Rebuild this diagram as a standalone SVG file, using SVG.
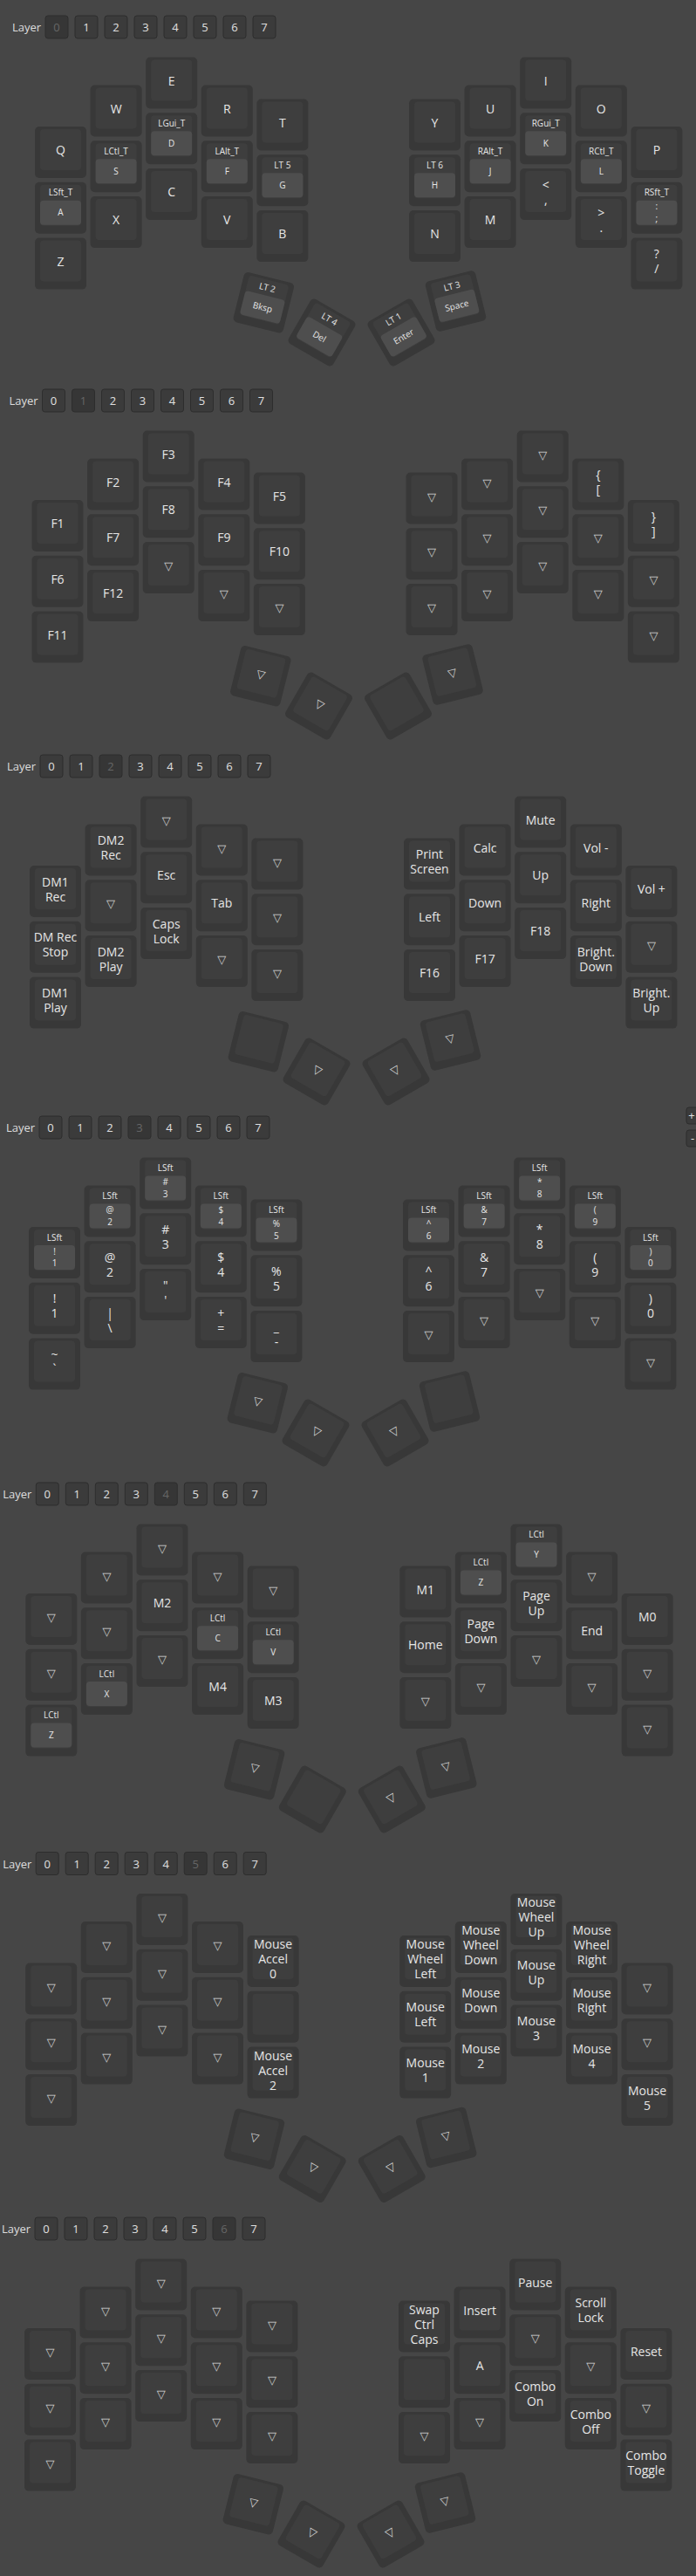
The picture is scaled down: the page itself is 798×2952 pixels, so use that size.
<svg xmlns="http://www.w3.org/2000/svg" xmlns:xlink="http://www.w3.org/1999/xlink" width="798" height="2952" viewBox="0 0 798 2952">
<style>
.ko{fill:#383838}
.kf{fill:#3e3e3e}
.kt{fill:#4e4e4e}
text{font-family:"Open Sans","Noto Sans",sans-serif;font-size:14px;fill:#e6e6e6;text-anchor:middle}
.s{font-size:10px}
.tr{font-family:"DejaVu Sans",sans-serif;font-size:13px;fill:#d4d4d4}
.lbl{font-size:13px;text-anchor:start;fill:#dedede}
.b{fill:#3b3b3b;stroke:#2d2d2d;stroke-width:1}
.ba{fill:#363636;stroke:#2d2d2d;stroke-width:1}
.bn{font-size:13px;fill:#e0e0e0}
.bna{font-size:13px;fill:#666}
</style>
<defs>
<g id="k"><rect class="ko" width="59" height="59" rx="5"/><rect class="kf" x="6" y="3" width="47" height="47" rx="4"/></g>
<g id="kh"><use href="#k"/><rect class="kt" x="6" y="21" width="47" height="28" rx="4"/></g>
</defs>
<rect width="798" height="2952" fill="#464646"/>
<g id="connectors"/>

<!-- LAYER 0 -->
<g id="layer0">
<g id="L0-bar"><text class="lbl" x="14" y="36">Layer</text>
<rect class="ba" x="52" y="18" width="26" height="26" rx="3"/><text class="bna" x="65" y="36">0</text>
<rect class="b" x="86" y="18" width="26" height="26" rx="3"/><text class="bn" x="99" y="36">1</text>
<rect class="b" x="120" y="18" width="26" height="26" rx="3"/><text class="bn" x="133" y="36">2</text>
<rect class="b" x="154" y="18" width="26" height="26" rx="3"/><text class="bn" x="167" y="36">3</text>
<rect class="b" x="188" y="18" width="26" height="26" rx="3"/><text class="bn" x="201" y="36">4</text>
<rect class="b" x="222" y="18" width="26" height="26" rx="3"/><text class="bn" x="235" y="36">5</text>
<rect class="b" x="256" y="18" width="26" height="26" rx="3"/><text class="bn" x="269" y="36">6</text>
<rect class="b" x="290" y="18" width="26" height="26" rx="3"/><text class="bn" x="303" y="36">7</text></g>
<g id="L0-Q" transform="translate(40 145)"><use href="#k"/><text x="29.5" y="32">Q</text></g>
<g id="L0-A" transform="translate(40 208.8)"><use href="#kh"/><text class="s" x="29.5" y="15.5">LSft_T</text><text class="s" x="29.5" y="38.5">A</text></g>
<g id="L0-Z" transform="translate(40 272.6)"><use href="#k"/><text x="29.5" y="32">Z</text></g>
<g id="L0-W" transform="translate(103.6 97.5)"><use href="#k"/><text x="29.5" y="32">W</text></g>
<g id="L0-S" transform="translate(103.6 161.3)"><use href="#kh"/><text class="s" x="29.5" y="15.5">LCtl_T</text><text class="s" x="29.5" y="38.5">S</text></g>
<g id="L0-X" transform="translate(103.6 225.1)"><use href="#k"/><text x="29.5" y="32">X</text></g>
<g id="L0-E" transform="translate(167.2 65.5)"><use href="#k"/><text x="29.5" y="32">E</text></g>
<g id="L0-D" transform="translate(167.2 129.3)"><use href="#kh"/><text class="s" x="29.5" y="15.5">LGui_T</text><text class="s" x="29.5" y="38.5">D</text></g>
<g id="L0-C" transform="translate(167.2 193.1)"><use href="#k"/><text x="29.5" y="32">C</text></g>
<g id="L0-R" transform="translate(230.8 97.5)"><use href="#k"/><text x="29.5" y="32">R</text></g>
<g id="L0-F" transform="translate(230.8 161.3)"><use href="#kh"/><text class="s" x="29.5" y="15.5">LAlt_T</text><text class="s" x="29.5" y="38.5">F</text></g>
<g id="L0-V" transform="translate(230.8 225.1)"><use href="#k"/><text x="29.5" y="32">V</text></g>
<g id="L0-T" transform="translate(294.4 113.5)"><use href="#k"/><text x="29.5" y="32">T</text></g>
<g id="L0-G" transform="translate(294.4 177.3)"><use href="#kh"/><text class="s" x="29.5" y="15.5">LT 5</text><text class="s" x="29.5" y="38.5">G</text></g>
<g id="L0-B" transform="translate(294.4 241.1)"><use href="#k"/><text x="29.5" y="32">B</text></g>
<g id="L0-Y" transform="translate(469 113.5)"><use href="#k"/><text x="29.5" y="32">Y</text></g>
<g id="L0-H" transform="translate(469 177.3)"><use href="#kh"/><text class="s" x="29.5" y="15.5">LT 6</text><text class="s" x="29.5" y="38.5">H</text></g>
<g id="L0-N" transform="translate(469 241.1)"><use href="#k"/><text x="29.5" y="32">N</text></g>
<g id="L0-U" transform="translate(532.6 97.5)"><use href="#k"/><text x="29.5" y="32">U</text></g>
<g id="L0-J" transform="translate(532.6 161.3)"><use href="#kh"/><text class="s" x="29.5" y="15.5">RAlt_T</text><text class="s" x="29.5" y="38.5">J</text></g>
<g id="L0-M" transform="translate(532.6 225.1)"><use href="#k"/><text x="29.5" y="32">M</text></g>
<g id="L0-I" transform="translate(596.2 65.5)"><use href="#k"/><text x="29.5" y="32">I</text></g>
<g id="L0-K" transform="translate(596.2 129.3)"><use href="#kh"/><text class="s" x="29.5" y="15.5">RGui_T</text><text class="s" x="29.5" y="38.5">K</text></g>
<g id="L0-COMM" transform="translate(596.2 193.1)"><use href="#k"/><text><tspan x="29.5" y="23.5">&lt;</tspan><tspan x="29.5" y="40.5">,</tspan></text></g>
<g id="L0-O" transform="translate(659.8 97.5)"><use href="#k"/><text x="29.5" y="32">O</text></g>
<g id="L0-L" transform="translate(659.8 161.3)"><use href="#kh"/><text class="s" x="29.5" y="15.5">RCtl_T</text><text class="s" x="29.5" y="38.5">L</text></g>
<g id="L0-DOT" transform="translate(659.8 225.1)"><use href="#k"/><text><tspan x="29.5" y="23.5">&gt;</tspan><tspan x="29.5" y="40.5">.</tspan></text></g>
<g id="L0-P" transform="translate(723.4 145)"><use href="#k"/><text x="29.5" y="32">P</text></g>
<g id="L0-SCLN" transform="translate(723.4 208.8)"><use href="#kh"/><text class="s" x="29.5" y="15.5">RSft_T</text><text class="s"><tspan x="29.5" y="31.5">:</tspan><tspan x="29.5" y="45">;</tspan></text></g>
<g id="L0-SLSH" transform="translate(723.4 272.6)"><use href="#k"/><text><tspan x="29.5" y="23.5">?</tspan><tspan x="29.5" y="40.5">/</tspan></text></g>
<g id="L0-T1" transform="translate(302.3 346.7) rotate(14) translate(-29.5 -29.5)"><use href="#kh"/><text class="s" x="29.5" y="15.5">LT 2</text><text class="s" x="29.5" y="38.5">Bksp</text></g>
<g id="L0-T2" transform="translate(369 381) rotate(30) translate(-29.5 -29.5)"><use href="#kh"/><text class="s" x="29.5" y="15.5">LT 4</text><text class="s" x="29.5" y="38.5">Del</text></g>
<g id="L0-T3" transform="translate(460 381) rotate(-30) translate(-29.5 -29.5)"><use href="#kh"/><text class="s" x="29.5" y="15.5">LT 1</text><text class="s" x="29.5" y="38.5">Enter</text></g>
<g id="L0-T4" transform="translate(522.5 345) rotate(-14) translate(-29.5 -29.5)"><use href="#kh"/><text class="s" x="29.5" y="15.5">LT 3</text><text class="s" x="29.5" y="38.5">Space</text></g>
</g>

<!-- LAYER 1 -->
<g id="layer1" transform="translate(-3.5 428)">
<g id="L1-bar"><text class="lbl" x="14" y="36">Layer</text>
<rect class="b" x="52" y="18" width="26" height="26" rx="3"/><text class="bn" x="65" y="36">0</text>
<rect class="ba" x="86" y="18" width="26" height="26" rx="3"/><text class="bna" x="99" y="36">1</text>
<rect class="b" x="120" y="18" width="26" height="26" rx="3"/><text class="bn" x="133" y="36">2</text>
<rect class="b" x="154" y="18" width="26" height="26" rx="3"/><text class="bn" x="167" y="36">3</text>
<rect class="b" x="188" y="18" width="26" height="26" rx="3"/><text class="bn" x="201" y="36">4</text>
<rect class="b" x="222" y="18" width="26" height="26" rx="3"/><text class="bn" x="235" y="36">5</text>
<rect class="b" x="256" y="18" width="26" height="26" rx="3"/><text class="bn" x="269" y="36">6</text>
<rect class="b" x="290" y="18" width="26" height="26" rx="3"/><text class="bn" x="303" y="36">7</text></g>
<g id="L1-l00" transform="translate(40 145)"><use href="#k"/><text x="29.5" y="32">F1</text></g>
<g id="L1-l01" transform="translate(40 208.8)"><use href="#k"/><text x="29.5" y="32">F6</text></g>
<g id="L1-l02" transform="translate(40 272.6)"><use href="#k"/><text x="29.5" y="32">F11</text></g>
<g id="L1-l10" transform="translate(103.6 97.5)"><use href="#k"/><text x="29.5" y="32">F2</text></g>
<g id="L1-l11" transform="translate(103.6 161.3)"><use href="#k"/><text x="29.5" y="32">F7</text></g>
<g id="L1-l12" transform="translate(103.6 225.1)"><use href="#k"/><text x="29.5" y="32">F12</text></g>
<g id="L1-l20" transform="translate(167.2 65.5)"><use href="#k"/><text x="29.5" y="32">F3</text></g>
<g id="L1-l21" transform="translate(167.2 129.3)"><use href="#k"/><text x="29.5" y="32">F8</text></g>
<g id="L1-l22" transform="translate(167.2 193.1)"><use href="#k"/><text class="tr" x="29.5" y="32">▽</text></g>
<g id="L1-l30" transform="translate(230.8 97.5)"><use href="#k"/><text x="29.5" y="32">F4</text></g>
<g id="L1-l31" transform="translate(230.8 161.3)"><use href="#k"/><text x="29.5" y="32">F9</text></g>
<g id="L1-l32" transform="translate(230.8 225.1)"><use href="#k"/><text class="tr" x="29.5" y="32">▽</text></g>
<g id="L1-l40" transform="translate(294.4 113.5)"><use href="#k"/><text x="29.5" y="32">F5</text></g>
<g id="L1-l41" transform="translate(294.4 177.3)"><use href="#k"/><text x="29.5" y="32">F10</text></g>
<g id="L1-l42" transform="translate(294.4 241.1)"><use href="#k"/><text class="tr" x="29.5" y="32">▽</text></g>
<g id="L1-r00" transform="translate(469 113.5)"><use href="#k"/><text class="tr" x="29.5" y="32">▽</text></g>
<g id="L1-r01" transform="translate(469 177.3)"><use href="#k"/><text class="tr" x="29.5" y="32">▽</text></g>
<g id="L1-r02" transform="translate(469 241.1)"><use href="#k"/><text class="tr" x="29.5" y="32">▽</text></g>
<g id="L1-r10" transform="translate(532.6 97.5)"><use href="#k"/><text class="tr" x="29.5" y="32">▽</text></g>
<g id="L1-r11" transform="translate(532.6 161.3)"><use href="#k"/><text class="tr" x="29.5" y="32">▽</text></g>
<g id="L1-r12" transform="translate(532.6 225.1)"><use href="#k"/><text class="tr" x="29.5" y="32">▽</text></g>
<g id="L1-r20" transform="translate(596.2 65.5)"><use href="#k"/><text class="tr" x="29.5" y="32">▽</text></g>
<g id="L1-r21" transform="translate(596.2 129.3)"><use href="#k"/><text class="tr" x="29.5" y="32">▽</text></g>
<g id="L1-r22" transform="translate(596.2 193.1)"><use href="#k"/><text class="tr" x="29.5" y="32">▽</text></g>
<g id="L1-r30" transform="translate(659.8 97.5)"><use href="#k"/><text><tspan x="29.5" y="23.5">{</tspan><tspan x="29.5" y="40.5">[</tspan></text></g>
<g id="L1-r31" transform="translate(659.8 161.3)"><use href="#k"/><text class="tr" x="29.5" y="32">▽</text></g>
<g id="L1-r32" transform="translate(659.8 225.1)"><use href="#k"/><text class="tr" x="29.5" y="32">▽</text></g>
<g id="L1-r40" transform="translate(723.4 145)"><use href="#k"/><text><tspan x="29.5" y="23.5">}</tspan><tspan x="29.5" y="40.5">]</tspan></text></g>
<g id="L1-r41" transform="translate(723.4 208.8)"><use href="#k"/><text class="tr" x="29.5" y="32">▽</text></g>
<g id="L1-r42" transform="translate(723.4 272.6)"><use href="#k"/><text class="tr" x="29.5" y="32">▽</text></g>
<g id="L1-T1" transform="translate(302.3 346.7) rotate(14) translate(-29.5 -29.5)"><use href="#k"/><text class="tr" x="29.5" y="32">▽</text></g>
<g id="L1-T2" transform="translate(369 381) rotate(30) translate(-29.5 -29.5)"><use href="#k"/><text class="tr" x="29.5" y="32">▽</text></g>
<g id="L1-T3" transform="translate(460 381) rotate(-30) translate(-29.5 -29.5)"><use href="#k"/></g>
<g id="L1-T4" transform="translate(522.5 345) rotate(-14) translate(-29.5 -29.5)"><use href="#k"/><text class="tr" x="29.5" y="32">▽</text></g>
</g>

<!-- LAYER 2 -->
<g id="layer2" transform="translate(-6 847)">
<g id="L2-bar"><text class="lbl" x="14" y="36">Layer</text>
<rect class="b" x="52" y="18" width="26" height="26" rx="3"/><text class="bn" x="65" y="36">0</text>
<rect class="b" x="86" y="18" width="26" height="26" rx="3"/><text class="bn" x="99" y="36">1</text>
<rect class="ba" x="120" y="18" width="26" height="26" rx="3"/><text class="bna" x="133" y="36">2</text>
<rect class="b" x="154" y="18" width="26" height="26" rx="3"/><text class="bn" x="167" y="36">3</text>
<rect class="b" x="188" y="18" width="26" height="26" rx="3"/><text class="bn" x="201" y="36">4</text>
<rect class="b" x="222" y="18" width="26" height="26" rx="3"/><text class="bn" x="235" y="36">5</text>
<rect class="b" x="256" y="18" width="26" height="26" rx="3"/><text class="bn" x="269" y="36">6</text>
<rect class="b" x="290" y="18" width="26" height="26" rx="3"/><text class="bn" x="303" y="36">7</text></g>
<g id="L2-l00" transform="translate(40 145)"><use href="#k"/><text><tspan x="29.5" y="23.5">DM1</tspan><tspan x="29.5" y="40.5">Rec</tspan></text></g>
<g id="L2-l01" transform="translate(40 208.8)"><use href="#k"/><text><tspan x="29.5" y="23.5">DM Rec</tspan><tspan x="29.5" y="40.5">Stop</tspan></text></g>
<g id="L2-l02" transform="translate(40 272.6)"><use href="#k"/><text><tspan x="29.5" y="23.5">DM1</tspan><tspan x="29.5" y="40.5">Play</tspan></text></g>
<g id="L2-l10" transform="translate(103.6 97.5)"><use href="#k"/><text><tspan x="29.5" y="23.5">DM2</tspan><tspan x="29.5" y="40.5">Rec</tspan></text></g>
<g id="L2-l11" transform="translate(103.6 161.3)"><use href="#k"/><text class="tr" x="29.5" y="32">▽</text></g>
<g id="L2-l12" transform="translate(103.6 225.1)"><use href="#k"/><text><tspan x="29.5" y="23.5">DM2</tspan><tspan x="29.5" y="40.5">Play</tspan></text></g>
<g id="L2-l20" transform="translate(167.2 65.5)"><use href="#k"/><text class="tr" x="29.5" y="32">▽</text></g>
<g id="L2-l21" transform="translate(167.2 129.3)"><use href="#k"/><text x="29.5" y="32">Esc</text></g>
<g id="L2-l22" transform="translate(167.2 193.1)"><use href="#k"/><text><tspan x="29.5" y="23.5">Caps</tspan><tspan x="29.5" y="40.5">Lock</tspan></text></g>
<g id="L2-l30" transform="translate(230.8 97.5)"><use href="#k"/><text class="tr" x="29.5" y="32">▽</text></g>
<g id="L2-l31" transform="translate(230.8 161.3)"><use href="#k"/><text x="29.5" y="32">Tab</text></g>
<g id="L2-l32" transform="translate(230.8 225.1)"><use href="#k"/><text class="tr" x="29.5" y="32">▽</text></g>
<g id="L2-l40" transform="translate(294.4 113.5)"><use href="#k"/><text class="tr" x="29.5" y="32">▽</text></g>
<g id="L2-l41" transform="translate(294.4 177.3)"><use href="#k"/><text class="tr" x="29.5" y="32">▽</text></g>
<g id="L2-l42" transform="translate(294.4 241.1)"><use href="#k"/><text class="tr" x="29.5" y="32">▽</text></g>
<g id="L2-r00" transform="translate(469 113.5)"><use href="#k"/><text><tspan x="29.5" y="23.5">Print</tspan><tspan x="29.5" y="40.5">Screen</tspan></text></g>
<g id="L2-r01" transform="translate(469 177.3)"><use href="#k"/><text x="29.5" y="32">Left</text></g>
<g id="L2-r02" transform="translate(469 241.1)"><use href="#k"/><text x="29.5" y="32">F16</text></g>
<g id="L2-r10" transform="translate(532.6 97.5)"><use href="#k"/><text x="29.5" y="32">Calc</text></g>
<g id="L2-r11" transform="translate(532.6 161.3)"><use href="#k"/><text x="29.5" y="32">Down</text></g>
<g id="L2-r12" transform="translate(532.6 225.1)"><use href="#k"/><text x="29.5" y="32">F17</text></g>
<g id="L2-r20" transform="translate(596.2 65.5)"><use href="#k"/><text x="29.5" y="32">Mute</text></g>
<g id="L2-r21" transform="translate(596.2 129.3)"><use href="#k"/><text x="29.5" y="32">Up</text></g>
<g id="L2-r22" transform="translate(596.2 193.1)"><use href="#k"/><text x="29.5" y="32">F18</text></g>
<g id="L2-r30" transform="translate(659.8 97.5)"><use href="#k"/><text x="29.5" y="32">Vol -</text></g>
<g id="L2-r31" transform="translate(659.8 161.3)"><use href="#k"/><text x="29.5" y="32">Right</text></g>
<g id="L2-r32" transform="translate(659.8 225.1)"><use href="#k"/><text><tspan x="29.5" y="23.5">Bright.</tspan><tspan x="29.5" y="40.5">Down</tspan></text></g>
<g id="L2-r40" transform="translate(723.4 145)"><use href="#k"/><text x="29.5" y="32">Vol +</text></g>
<g id="L2-r41" transform="translate(723.4 208.8)"><use href="#k"/><text class="tr" x="29.5" y="32">▽</text></g>
<g id="L2-r42" transform="translate(723.4 272.6)"><use href="#k"/><text><tspan x="29.5" y="23.5">Bright.</tspan><tspan x="29.5" y="40.5">Up</tspan></text></g>
<g id="L2-T1" transform="translate(302.3 346.7) rotate(14) translate(-29.5 -29.5)"><use href="#k"/></g>
<g id="L2-T2" transform="translate(369 381) rotate(30) translate(-29.5 -29.5)"><use href="#k"/><text class="tr" x="29.5" y="32">▽</text></g>
<g id="L2-T3" transform="translate(460 381) rotate(-30) translate(-29.5 -29.5)"><use href="#k"/><text class="tr" x="29.5" y="32">▽</text></g>
<g id="L2-T4" transform="translate(522.5 345) rotate(-14) translate(-29.5 -29.5)"><use href="#k"/><text class="tr" x="29.5" y="32">▽</text></g>
</g>

<!-- LAYER 3 -->
<g id="layer3" transform="translate(-7 1261)">
<g id="L3-bar"><text class="lbl" x="14" y="36">Layer</text>
<rect class="b" x="52" y="18" width="26" height="26" rx="3"/><text class="bn" x="65" y="36">0</text>
<rect class="b" x="86" y="18" width="26" height="26" rx="3"/><text class="bn" x="99" y="36">1</text>
<rect class="b" x="120" y="18" width="26" height="26" rx="3"/><text class="bn" x="133" y="36">2</text>
<rect class="ba" x="154" y="18" width="26" height="26" rx="3"/><text class="bna" x="167" y="36">3</text>
<rect class="b" x="188" y="18" width="26" height="26" rx="3"/><text class="bn" x="201" y="36">4</text>
<rect class="b" x="222" y="18" width="26" height="26" rx="3"/><text class="bn" x="235" y="36">5</text>
<rect class="b" x="256" y="18" width="26" height="26" rx="3"/><text class="bn" x="269" y="36">6</text>
<rect class="b" x="290" y="18" width="26" height="26" rx="3"/><text class="bn" x="303" y="36">7</text></g>
<g id="L3-l00" transform="translate(40 145)"><use href="#kh"/><text class="s" x="29.5" y="15.5">LSft</text><text class="s"><tspan x="29.5" y="31.5">!</tspan><tspan x="29.5" y="45">1</tspan></text></g>
<g id="L3-l01" transform="translate(40 208.8)"><use href="#k"/><text><tspan x="29.5" y="23.5">!</tspan><tspan x="29.5" y="40.5">1</tspan></text></g>
<g id="L3-l02" transform="translate(40 272.6)"><use href="#k"/><text><tspan x="29.5" y="23.5">~</tspan><tspan x="29.5" y="40.5">`</tspan></text></g>
<g id="L3-l10" transform="translate(103.6 97.5)"><use href="#kh"/><text class="s" x="29.5" y="15.5">LSft</text><text class="s"><tspan x="29.5" y="31.5">@</tspan><tspan x="29.5" y="45">2</tspan></text></g>
<g id="L3-l11" transform="translate(103.6 161.3)"><use href="#k"/><text><tspan x="29.5" y="23.5">@</tspan><tspan x="29.5" y="40.5">2</tspan></text></g>
<g id="L3-l12" transform="translate(103.6 225.1)"><use href="#k"/><text><tspan x="29.5" y="23.5">|</tspan><tspan x="29.5" y="40.5">\</tspan></text></g>
<g id="L3-l20" transform="translate(167.2 65.5)"><use href="#kh"/><text class="s" x="29.5" y="15.5">LSft</text><text class="s"><tspan x="29.5" y="31.5">#</tspan><tspan x="29.5" y="45">3</tspan></text></g>
<g id="L3-l21" transform="translate(167.2 129.3)"><use href="#k"/><text><tspan x="29.5" y="23.5">#</tspan><tspan x="29.5" y="40.5">3</tspan></text></g>
<g id="L3-l22" transform="translate(167.2 193.1)"><use href="#k"/><text><tspan x="29.5" y="23.5">"</tspan><tspan x="29.5" y="40.5">'</tspan></text></g>
<g id="L3-l30" transform="translate(230.8 97.5)"><use href="#kh"/><text class="s" x="29.5" y="15.5">LSft</text><text class="s"><tspan x="29.5" y="31.5">$</tspan><tspan x="29.5" y="45">4</tspan></text></g>
<g id="L3-l31" transform="translate(230.8 161.3)"><use href="#k"/><text><tspan x="29.5" y="23.5">$</tspan><tspan x="29.5" y="40.5">4</tspan></text></g>
<g id="L3-l32" transform="translate(230.8 225.1)"><use href="#k"/><text><tspan x="29.5" y="23.5">+</tspan><tspan x="29.5" y="40.5">=</tspan></text></g>
<g id="L3-l40" transform="translate(294.4 113.5)"><use href="#kh"/><text class="s" x="29.5" y="15.5">LSft</text><text class="s"><tspan x="29.5" y="31.5">%</tspan><tspan x="29.5" y="45">5</tspan></text></g>
<g id="L3-l41" transform="translate(294.4 177.3)"><use href="#k"/><text><tspan x="29.5" y="23.5">%</tspan><tspan x="29.5" y="40.5">5</tspan></text></g>
<g id="L3-l42" transform="translate(294.4 241.1)"><use href="#k"/><text><tspan x="29.5" y="23.5">_</tspan><tspan x="29.5" y="40.5">-</tspan></text></g>
<g id="L3-r00" transform="translate(469 113.5)"><use href="#kh"/><text class="s" x="29.5" y="15.5">LSft</text><text class="s"><tspan x="29.5" y="31.5">^</tspan><tspan x="29.5" y="45">6</tspan></text></g>
<g id="L3-r01" transform="translate(469 177.3)"><use href="#k"/><text><tspan x="29.5" y="23.5">^</tspan><tspan x="29.5" y="40.5">6</tspan></text></g>
<g id="L3-r02" transform="translate(469 241.1)"><use href="#k"/><text class="tr" x="29.5" y="32">▽</text></g>
<g id="L3-r10" transform="translate(532.6 97.5)"><use href="#kh"/><text class="s" x="29.5" y="15.5">LSft</text><text class="s"><tspan x="29.5" y="31.5">&amp;</tspan><tspan x="29.5" y="45">7</tspan></text></g>
<g id="L3-r11" transform="translate(532.6 161.3)"><use href="#k"/><text><tspan x="29.5" y="23.5">&amp;</tspan><tspan x="29.5" y="40.5">7</tspan></text></g>
<g id="L3-r12" transform="translate(532.6 225.1)"><use href="#k"/><text class="tr" x="29.5" y="32">▽</text></g>
<g id="L3-r20" transform="translate(596.2 65.5)"><use href="#kh"/><text class="s" x="29.5" y="15.5">LSft</text><text class="s"><tspan x="29.5" y="31.5">*</tspan><tspan x="29.5" y="45">8</tspan></text></g>
<g id="L3-r21" transform="translate(596.2 129.3)"><use href="#k"/><text><tspan x="29.5" y="23.5">*</tspan><tspan x="29.5" y="40.5">8</tspan></text></g>
<g id="L3-r22" transform="translate(596.2 193.1)"><use href="#k"/><text class="tr" x="29.5" y="32">▽</text></g>
<g id="L3-r30" transform="translate(659.8 97.5)"><use href="#kh"/><text class="s" x="29.5" y="15.5">LSft</text><text class="s"><tspan x="29.5" y="31.5">(</tspan><tspan x="29.5" y="45">9</tspan></text></g>
<g id="L3-r31" transform="translate(659.8 161.3)"><use href="#k"/><text><tspan x="29.5" y="23.5">(</tspan><tspan x="29.5" y="40.5">9</tspan></text></g>
<g id="L3-r32" transform="translate(659.8 225.1)"><use href="#k"/><text class="tr" x="29.5" y="32">▽</text></g>
<g id="L3-r40" transform="translate(723.4 145)"><use href="#kh"/><text class="s" x="29.5" y="15.5">LSft</text><text class="s"><tspan x="29.5" y="31.5">)</tspan><tspan x="29.5" y="45">0</tspan></text></g>
<g id="L3-r41" transform="translate(723.4 208.8)"><use href="#k"/><text><tspan x="29.5" y="23.5">)</tspan><tspan x="29.5" y="40.5">0</tspan></text></g>
<g id="L3-r42" transform="translate(723.4 272.6)"><use href="#k"/><text class="tr" x="29.5" y="32">▽</text></g>
<g id="L3-T1" transform="translate(302.3 346.7) rotate(14) translate(-29.5 -29.5)"><use href="#k"/><text class="tr" x="29.5" y="32">▽</text></g>
<g id="L3-T2" transform="translate(369 381) rotate(30) translate(-29.5 -29.5)"><use href="#k"/><text class="tr" x="29.5" y="32">▽</text></g>
<g id="L3-T3" transform="translate(460 381) rotate(-30) translate(-29.5 -29.5)"><use href="#k"/><text class="tr" x="29.5" y="32">▽</text></g>
<g id="L3-T4" transform="translate(522.5 345) rotate(-14) translate(-29.5 -29.5)"><use href="#k"/></g>
</g>

<!-- LAYER 4 -->
<g id="layer4" transform="translate(-10.7 1681)">
<g id="L4-bar"><text class="lbl" x="14" y="36">Layer</text>
<rect class="b" x="52" y="18" width="26" height="26" rx="3"/><text class="bn" x="65" y="36">0</text>
<rect class="b" x="86" y="18" width="26" height="26" rx="3"/><text class="bn" x="99" y="36">1</text>
<rect class="b" x="120" y="18" width="26" height="26" rx="3"/><text class="bn" x="133" y="36">2</text>
<rect class="b" x="154" y="18" width="26" height="26" rx="3"/><text class="bn" x="167" y="36">3</text>
<rect class="ba" x="188" y="18" width="26" height="26" rx="3"/><text class="bna" x="201" y="36">4</text>
<rect class="b" x="222" y="18" width="26" height="26" rx="3"/><text class="bn" x="235" y="36">5</text>
<rect class="b" x="256" y="18" width="26" height="26" rx="3"/><text class="bn" x="269" y="36">6</text>
<rect class="b" x="290" y="18" width="26" height="26" rx="3"/><text class="bn" x="303" y="36">7</text></g>
<g id="L4-l00" transform="translate(40 145)"><use href="#k"/><text class="tr" x="29.5" y="32">▽</text></g>
<g id="L4-l01" transform="translate(40 208.8)"><use href="#k"/><text class="tr" x="29.5" y="32">▽</text></g>
<g id="L4-l02" transform="translate(40 272.6)"><use href="#kh"/><text class="s" x="29.5" y="15.5">LCtl</text><text class="s" x="29.5" y="38.5">Z</text></g>
<g id="L4-l10" transform="translate(103.6 97.5)"><use href="#k"/><text class="tr" x="29.5" y="32">▽</text></g>
<g id="L4-l11" transform="translate(103.6 161.3)"><use href="#k"/><text class="tr" x="29.5" y="32">▽</text></g>
<g id="L4-l12" transform="translate(103.6 225.1)"><use href="#kh"/><text class="s" x="29.5" y="15.5">LCtl</text><text class="s" x="29.5" y="38.5">X</text></g>
<g id="L4-l20" transform="translate(167.2 65.5)"><use href="#k"/><text class="tr" x="29.5" y="32">▽</text></g>
<g id="L4-l21" transform="translate(167.2 129.3)"><use href="#k"/><text x="29.5" y="32">M2</text></g>
<g id="L4-l22" transform="translate(167.2 193.1)"><use href="#k"/><text class="tr" x="29.5" y="32">▽</text></g>
<g id="L4-l30" transform="translate(230.8 97.5)"><use href="#k"/><text class="tr" x="29.5" y="32">▽</text></g>
<g id="L4-l31" transform="translate(230.8 161.3)"><use href="#kh"/><text class="s" x="29.5" y="15.5">LCtl</text><text class="s" x="29.5" y="38.5">C</text></g>
<g id="L4-l32" transform="translate(230.8 225.1)"><use href="#k"/><text x="29.5" y="32">M4</text></g>
<g id="L4-l40" transform="translate(294.4 113.5)"><use href="#k"/><text class="tr" x="29.5" y="32">▽</text></g>
<g id="L4-l41" transform="translate(294.4 177.3)"><use href="#kh"/><text class="s" x="29.5" y="15.5">LCtl</text><text class="s" x="29.5" y="38.5">V</text></g>
<g id="L4-l42" transform="translate(294.4 241.1)"><use href="#k"/><text x="29.5" y="32">M3</text></g>
<g id="L4-r00" transform="translate(469 113.5)"><use href="#k"/><text x="29.5" y="32">M1</text></g>
<g id="L4-r01" transform="translate(469 177.3)"><use href="#k"/><text x="29.5" y="32">Home</text></g>
<g id="L4-r02" transform="translate(469 241.1)"><use href="#k"/><text class="tr" x="29.5" y="32">▽</text></g>
<g id="L4-r10" transform="translate(532.6 97.5)"><use href="#kh"/><text class="s" x="29.5" y="15.5">LCtl</text><text class="s" x="29.5" y="38.5">Z</text></g>
<g id="L4-r11" transform="translate(532.6 161.3)"><use href="#k"/><text><tspan x="29.5" y="23.5">Page</tspan><tspan x="29.5" y="40.5">Down</tspan></text></g>
<g id="L4-r12" transform="translate(532.6 225.1)"><use href="#k"/><text class="tr" x="29.5" y="32">▽</text></g>
<g id="L4-r20" transform="translate(596.2 65.5)"><use href="#kh"/><text class="s" x="29.5" y="15.5">LCtl</text><text class="s" x="29.5" y="38.5">Y</text></g>
<g id="L4-r21" transform="translate(596.2 129.3)"><use href="#k"/><text><tspan x="29.5" y="23.5">Page</tspan><tspan x="29.5" y="40.5">Up</tspan></text></g>
<g id="L4-r22" transform="translate(596.2 193.1)"><use href="#k"/><text class="tr" x="29.5" y="32">▽</text></g>
<g id="L4-r30" transform="translate(659.8 97.5)"><use href="#k"/><text class="tr" x="29.5" y="32">▽</text></g>
<g id="L4-r31" transform="translate(659.8 161.3)"><use href="#k"/><text x="29.5" y="32">End</text></g>
<g id="L4-r32" transform="translate(659.8 225.1)"><use href="#k"/><text class="tr" x="29.5" y="32">▽</text></g>
<g id="L4-r40" transform="translate(723.4 145)"><use href="#k"/><text x="29.5" y="32">M0</text></g>
<g id="L4-r41" transform="translate(723.4 208.8)"><use href="#k"/><text class="tr" x="29.5" y="32">▽</text></g>
<g id="L4-r42" transform="translate(723.4 272.6)"><use href="#k"/><text class="tr" x="29.5" y="32">▽</text></g>
<g id="L4-T1" transform="translate(302.3 346.7) rotate(14) translate(-29.5 -29.5)"><use href="#k"/><text class="tr" x="29.5" y="32">▽</text></g>
<g id="L4-T2" transform="translate(369 381) rotate(30) translate(-29.5 -29.5)"><use href="#k"/></g>
<g id="L4-T3" transform="translate(460 381) rotate(-30) translate(-29.5 -29.5)"><use href="#k"/><text class="tr" x="29.5" y="32">▽</text></g>
<g id="L4-T4" transform="translate(522.5 345) rotate(-14) translate(-29.5 -29.5)"><use href="#k"/><text class="tr" x="29.5" y="32">▽</text></g>
</g>

<!-- LAYER 5 -->
<g id="layer5" transform="translate(-10.8 2104.5)">
<g id="L5-bar"><text class="lbl" x="14" y="36">Layer</text>
<rect class="b" x="52" y="18" width="26" height="26" rx="3"/><text class="bn" x="65" y="36">0</text>
<rect class="b" x="86" y="18" width="26" height="26" rx="3"/><text class="bn" x="99" y="36">1</text>
<rect class="b" x="120" y="18" width="26" height="26" rx="3"/><text class="bn" x="133" y="36">2</text>
<rect class="b" x="154" y="18" width="26" height="26" rx="3"/><text class="bn" x="167" y="36">3</text>
<rect class="b" x="188" y="18" width="26" height="26" rx="3"/><text class="bn" x="201" y="36">4</text>
<rect class="ba" x="222" y="18" width="26" height="26" rx="3"/><text class="bna" x="235" y="36">5</text>
<rect class="b" x="256" y="18" width="26" height="26" rx="3"/><text class="bn" x="269" y="36">6</text>
<rect class="b" x="290" y="18" width="26" height="26" rx="3"/><text class="bn" x="303" y="36">7</text></g>
<g id="L5-l00" transform="translate(40 145)"><use href="#k"/><text class="tr" x="29.5" y="32">▽</text></g>
<g id="L5-l01" transform="translate(40 208.8)"><use href="#k"/><text class="tr" x="29.5" y="32">▽</text></g>
<g id="L5-l02" transform="translate(40 272.6)"><use href="#k"/><text class="tr" x="29.5" y="32">▽</text></g>
<g id="L5-l10" transform="translate(103.6 97.5)"><use href="#k"/><text class="tr" x="29.5" y="32">▽</text></g>
<g id="L5-l11" transform="translate(103.6 161.3)"><use href="#k"/><text class="tr" x="29.5" y="32">▽</text></g>
<g id="L5-l12" transform="translate(103.6 225.1)"><use href="#k"/><text class="tr" x="29.5" y="32">▽</text></g>
<g id="L5-l20" transform="translate(167.2 65.5)"><use href="#k"/><text class="tr" x="29.5" y="32">▽</text></g>
<g id="L5-l21" transform="translate(167.2 129.3)"><use href="#k"/><text class="tr" x="29.5" y="32">▽</text></g>
<g id="L5-l22" transform="translate(167.2 193.1)"><use href="#k"/><text class="tr" x="29.5" y="32">▽</text></g>
<g id="L5-l30" transform="translate(230.8 97.5)"><use href="#k"/><text class="tr" x="29.5" y="32">▽</text></g>
<g id="L5-l31" transform="translate(230.8 161.3)"><use href="#k"/><text class="tr" x="29.5" y="32">▽</text></g>
<g id="L5-l32" transform="translate(230.8 225.1)"><use href="#k"/><text class="tr" x="29.5" y="32">▽</text></g>
<g id="L5-l40" transform="translate(294.4 113.5)"><use href="#k"/><text><tspan x="29.5" y="15">Mouse</tspan><tspan x="29.5" y="32">Accel</tspan><tspan x="29.5" y="49">0</tspan></text></g>
<g id="L5-l41" transform="translate(294.4 177.3)"><use href="#k"/></g>
<g id="L5-l42" transform="translate(294.4 241.1)"><use href="#k"/><text><tspan x="29.5" y="15">Mouse</tspan><tspan x="29.5" y="32">Accel</tspan><tspan x="29.5" y="49">2</tspan></text></g>
<g id="L5-r00" transform="translate(469 113.5)"><use href="#k"/><text><tspan x="29.5" y="15">Mouse</tspan><tspan x="29.5" y="32">Wheel</tspan><tspan x="29.5" y="49">Left</tspan></text></g>
<g id="L5-r01" transform="translate(469 177.3)"><use href="#k"/><text><tspan x="29.5" y="23.5">Mouse</tspan><tspan x="29.5" y="40.5">Left</tspan></text></g>
<g id="L5-r02" transform="translate(469 241.1)"><use href="#k"/><text><tspan x="29.5" y="23.5">Mouse</tspan><tspan x="29.5" y="40.5">1</tspan></text></g>
<g id="L5-r10" transform="translate(532.6 97.5)"><use href="#k"/><text><tspan x="29.5" y="15">Mouse</tspan><tspan x="29.5" y="32">Wheel</tspan><tspan x="29.5" y="49">Down</tspan></text></g>
<g id="L5-r11" transform="translate(532.6 161.3)"><use href="#k"/><text><tspan x="29.5" y="23.5">Mouse</tspan><tspan x="29.5" y="40.5">Down</tspan></text></g>
<g id="L5-r12" transform="translate(532.6 225.1)"><use href="#k"/><text><tspan x="29.5" y="23.5">Mouse</tspan><tspan x="29.5" y="40.5">2</tspan></text></g>
<g id="L5-r20" transform="translate(596.2 65.5)"><use href="#k"/><text><tspan x="29.5" y="15">Mouse</tspan><tspan x="29.5" y="32">Wheel</tspan><tspan x="29.5" y="49">Up</tspan></text></g>
<g id="L5-r21" transform="translate(596.2 129.3)"><use href="#k"/><text><tspan x="29.5" y="23.5">Mouse</tspan><tspan x="29.5" y="40.5">Up</tspan></text></g>
<g id="L5-r22" transform="translate(596.2 193.1)"><use href="#k"/><text><tspan x="29.5" y="23.5">Mouse</tspan><tspan x="29.5" y="40.5">3</tspan></text></g>
<g id="L5-r30" transform="translate(659.8 97.5)"><use href="#k"/><text><tspan x="29.5" y="15">Mouse</tspan><tspan x="29.5" y="32">Wheel</tspan><tspan x="29.5" y="49">Right</tspan></text></g>
<g id="L5-r31" transform="translate(659.8 161.3)"><use href="#k"/><text><tspan x="29.5" y="23.5">Mouse</tspan><tspan x="29.5" y="40.5">Right</tspan></text></g>
<g id="L5-r32" transform="translate(659.8 225.1)"><use href="#k"/><text><tspan x="29.5" y="23.5">Mouse</tspan><tspan x="29.5" y="40.5">4</tspan></text></g>
<g id="L5-r40" transform="translate(723.4 145)"><use href="#k"/><text class="tr" x="29.5" y="32">▽</text></g>
<g id="L5-r41" transform="translate(723.4 208.8)"><use href="#k"/><text class="tr" x="29.5" y="32">▽</text></g>
<g id="L5-r42" transform="translate(723.4 272.6)"><use href="#k"/><text><tspan x="29.5" y="23.5">Mouse</tspan><tspan x="29.5" y="40.5">5</tspan></text></g>
<g id="L5-T1" transform="translate(302.3 346.7) rotate(14) translate(-29.5 -29.5)"><use href="#k"/><text class="tr" x="29.5" y="32">▽</text></g>
<g id="L5-T2" transform="translate(369 381) rotate(30) translate(-29.5 -29.5)"><use href="#k"/><text class="tr" x="29.5" y="32">▽</text></g>
<g id="L5-T3" transform="translate(460 381) rotate(-30) translate(-29.5 -29.5)"><use href="#k"/><text class="tr" x="29.5" y="32">▽</text></g>
<g id="L5-T4" transform="translate(522.5 345) rotate(-14) translate(-29.5 -29.5)"><use href="#k"/><text class="tr" x="29.5" y="32">▽</text></g>
</g>

<!-- LAYER 6 -->
<g id="layer6" transform="translate(-12 2523)">
<g id="L6-bar"><text class="lbl" x="14" y="36">Layer</text>
<rect class="b" x="52" y="18" width="26" height="26" rx="3"/><text class="bn" x="65" y="36">0</text>
<rect class="b" x="86" y="18" width="26" height="26" rx="3"/><text class="bn" x="99" y="36">1</text>
<rect class="b" x="120" y="18" width="26" height="26" rx="3"/><text class="bn" x="133" y="36">2</text>
<rect class="b" x="154" y="18" width="26" height="26" rx="3"/><text class="bn" x="167" y="36">3</text>
<rect class="b" x="188" y="18" width="26" height="26" rx="3"/><text class="bn" x="201" y="36">4</text>
<rect class="b" x="222" y="18" width="26" height="26" rx="3"/><text class="bn" x="235" y="36">5</text>
<rect class="ba" x="256" y="18" width="26" height="26" rx="3"/><text class="bna" x="269" y="36">6</text>
<rect class="b" x="290" y="18" width="26" height="26" rx="3"/><text class="bn" x="303" y="36">7</text></g>
<g id="L6-l00" transform="translate(40 145)"><use href="#k"/><text class="tr" x="29.5" y="32">▽</text></g>
<g id="L6-l01" transform="translate(40 208.8)"><use href="#k"/><text class="tr" x="29.5" y="32">▽</text></g>
<g id="L6-l02" transform="translate(40 272.6)"><use href="#k"/><text class="tr" x="29.5" y="32">▽</text></g>
<g id="L6-l10" transform="translate(103.6 97.5)"><use href="#k"/><text class="tr" x="29.5" y="32">▽</text></g>
<g id="L6-l11" transform="translate(103.6 161.3)"><use href="#k"/><text class="tr" x="29.5" y="32">▽</text></g>
<g id="L6-l12" transform="translate(103.6 225.1)"><use href="#k"/><text class="tr" x="29.5" y="32">▽</text></g>
<g id="L6-l20" transform="translate(167.2 65.5)"><use href="#k"/><text class="tr" x="29.5" y="32">▽</text></g>
<g id="L6-l21" transform="translate(167.2 129.3)"><use href="#k"/><text class="tr" x="29.5" y="32">▽</text></g>
<g id="L6-l22" transform="translate(167.2 193.1)"><use href="#k"/><text class="tr" x="29.5" y="32">▽</text></g>
<g id="L6-l30" transform="translate(230.8 97.5)"><use href="#k"/><text class="tr" x="29.5" y="32">▽</text></g>
<g id="L6-l31" transform="translate(230.8 161.3)"><use href="#k"/><text class="tr" x="29.5" y="32">▽</text></g>
<g id="L6-l32" transform="translate(230.8 225.1)"><use href="#k"/><text class="tr" x="29.5" y="32">▽</text></g>
<g id="L6-l40" transform="translate(294.4 113.5)"><use href="#k"/><text class="tr" x="29.5" y="32">▽</text></g>
<g id="L6-l41" transform="translate(294.4 177.3)"><use href="#k"/><text class="tr" x="29.5" y="32">▽</text></g>
<g id="L6-l42" transform="translate(294.4 241.1)"><use href="#k"/><text class="tr" x="29.5" y="32">▽</text></g>
<g id="L6-r00" transform="translate(469 113.5)"><use href="#k"/><text><tspan x="29.5" y="15">Swap</tspan><tspan x="29.5" y="32">Ctrl</tspan><tspan x="29.5" y="49">Caps</tspan></text></g>
<g id="L6-r01" transform="translate(469 177.3)"><use href="#k"/></g>
<g id="L6-r02" transform="translate(469 241.1)"><use href="#k"/><text class="tr" x="29.5" y="32">▽</text></g>
<g id="L6-r10" transform="translate(532.6 97.5)"><use href="#k"/><text x="29.5" y="32">Insert</text></g>
<g id="L6-r11" transform="translate(532.6 161.3)"><use href="#k"/><text x="29.5" y="32">A</text></g>
<g id="L6-r12" transform="translate(532.6 225.1)"><use href="#k"/><text class="tr" x="29.5" y="32">▽</text></g>
<g id="L6-r20" transform="translate(596.2 65.5)"><use href="#k"/><text x="29.5" y="32">Pause</text></g>
<g id="L6-r21" transform="translate(596.2 129.3)"><use href="#k"/><text class="tr" x="29.5" y="32">▽</text></g>
<g id="L6-r22" transform="translate(596.2 193.1)"><use href="#k"/><text><tspan x="29.5" y="23.5">Combo</tspan><tspan x="29.5" y="40.5">On</tspan></text></g>
<g id="L6-r30" transform="translate(659.8 97.5)"><use href="#k"/><text><tspan x="29.5" y="23.5">Scroll</tspan><tspan x="29.5" y="40.5">Lock</tspan></text></g>
<g id="L6-r31" transform="translate(659.8 161.3)"><use href="#k"/><text class="tr" x="29.5" y="32">▽</text></g>
<g id="L6-r32" transform="translate(659.8 225.1)"><use href="#k"/><text><tspan x="29.5" y="23.5">Combo</tspan><tspan x="29.5" y="40.5">Off</tspan></text></g>
<g id="L6-r40" transform="translate(723.4 145)"><use href="#k"/><text x="29.5" y="32">Reset</text></g>
<g id="L6-r41" transform="translate(723.4 208.8)"><use href="#k"/><text class="tr" x="29.5" y="32">▽</text></g>
<g id="L6-r42" transform="translate(723.4 272.6)"><use href="#k"/><text><tspan x="29.5" y="23.5">Combo</tspan><tspan x="29.5" y="40.5">Toggle</tspan></text></g>
<g id="L6-T1" transform="translate(302.3 346.7) rotate(14) translate(-29.5 -29.5)"><use href="#k"/><text class="tr" x="29.5" y="32">▽</text></g>
<g id="L6-T2" transform="translate(369 381) rotate(30) translate(-29.5 -29.5)"><use href="#k"/><text class="tr" x="29.5" y="32">▽</text></g>
<g id="L6-T3" transform="translate(460 381) rotate(-30) translate(-29.5 -29.5)"><use href="#k"/><text class="tr" x="29.5" y="32">▽</text></g>
<g id="L6-T4" transform="translate(522.5 345) rotate(-14) translate(-29.5 -29.5)"><use href="#k"/><text class="tr" x="29.5" y="32">▽</text></g>
</g>

<g id="zoom-buttons">
<rect class="b" x="787" y="1269" width="20" height="19" rx="3"/><text class="bn" x="793" y="1283">+</text>
<rect class="b" x="787" y="1295" width="20" height="19" rx="3"/><text class="bn" x="794" y="1309">-</text>
</g>
</svg>
